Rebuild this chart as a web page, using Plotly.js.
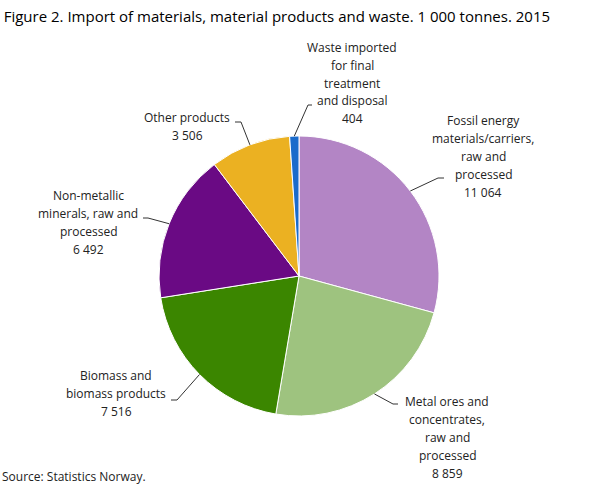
<!DOCTYPE html>
<html>
<head>
<meta charset="utf-8">
<script src="https://cdn.plot.ly/plotly-3.0.1.min.js"></script>
<style>
  html, body { margin: 0; padding: 0; background: #fff; }
  #chart { width: 609px; height: 488px; }
</style>
</head>
<body>
<div id="chart"></div>
<script>
'use strict';

/* ============================================================
   DATA – 1 000 tonnes, 2015
   ============================================================ */
var categories = [
  'Fossil energy materials/carriers, raw and processed',
  'Metal ores and concentrates, raw and processed',
  'Biomass and biomass products',
  'Non-metallic minerals, raw and processed',
  'Other products',
  'Waste imported for final treatment and disposal'
];
var labelLines = [
  ['Fossil energy', 'materials/carriers,', 'raw and', 'processed'],
  ['Metal ores and', 'concentrates,', 'raw and', 'processed'],
  ['Biomass and', 'biomass products'],
  ['Non-metallic', 'minerals, raw and', 'processed'],
  ['Other products'],
  ['Waste imported', 'for final', 'treatment', 'and disposal']
];
var values = [11064, 8859, 7516, 6492, 3506, 404];

/* ============================================================
   STYLE / PLACEMENT (pixels in the 609x488 frame)
   ============================================================ */
var W = 609, H = 488;
var colors = ['#b385c5', '#9ec37f', '#3b8600', '#6a0a84', '#ebb122', '#1b6bcb'];
var PIE = { cx: 299, cy: 276, r: 140 };
var LINE_H = 18;
// text centre (tx, ty), leader elbow (ex, ey), tick end (hx)
var labelPlace = [
  { tx: 483, ty: 156, ex: 438, ey: 178, hx: 444 },
  { tx: 447, ty: 437, ex: 393, ey: 404, hx: 398 },
  { tx: 116, ty: 393, ex: 177, ey: 400, hx: 171 },
  { tx: 88,  ty: 222, ex: 148, ey: 218, hx: 143 },
  { tx: 187, ty: 126, ex: 241, ey: 122, hx: 235 },
  { tx: 352, ty: 83,  ex: 308, ey: 105, hx: 312 }
];

function fmt(v) {
  return String(v).replace(/\B(?=(\d{3})+(?!\d))/g, ' ');
}
function px(x) { return x / W; }
function py(y) { return 1 - y / H; }

/* ============================================================
   LABELS + LEADER LINES
   ============================================================ */
var total = values.reduce(function (a, b) { return a + b; }, 0);
var annotations = [];
var shapes = [];
var cum = 0;

values.forEach(function (v, i) {
  var mid = (cum + v / 2) / total;
  cum += v;
  var t = mid * 2 * Math.PI;
  var ax = PIE.cx + PIE.r * Math.sin(t);
  var ay = PIE.cy - PIE.r * Math.cos(t);
  var p = labelPlace[i];

  var lines = labelLines[i].concat([fmt(v)]);
  lines.forEach(function (ln, k) {
    annotations.push({
      xref: 'paper', yref: 'paper',
      x: px(p.tx), y: py(p.ty + (k - (lines.length - 1) / 2) * LINE_H),
      xanchor: 'center', yanchor: 'middle',
      text: ln, showarrow: false,
      font: { family: 'Open Sans, sans-serif', size: 12, color: '#222' }
    });
  });

  shapes.push({
    type: 'path', xref: 'paper', yref: 'paper',
    path: 'M' + px(ax) + ',' + py(ay) + ' L' + px(p.ex) + ',' + py(p.ey) +
          ' L' + px(p.hx) + ',' + py(p.ey),
    line: { color: '#333', width: 1 }
  });
});

annotations.push({
  xref: 'paper', yref: 'paper', x: px(0), y: py(476),
  xanchor: 'left', yanchor: 'middle', showarrow: false,
  text: 'Source: Statistics Norway.',
  font: { family: 'Open Sans, sans-serif', size: 12, color: '#222' }
});

/* ============================================================
   PIE
   ============================================================ */
Plotly.newPlot('chart', [{
  type: 'pie',
  labels: categories,
  values: values,
  sort: false,
  direction: 'clockwise',
  rotation: 0,
  textinfo: 'none',
  hoverinfo: 'label+value',
  marker: { colors: colors, line: { color: '#fff', width: 1 } },
  domain: {
    x: [px(PIE.cx - PIE.r), px(PIE.cx + PIE.r)],
    y: [py(PIE.cy + PIE.r), py(PIE.cy - PIE.r)]
  }
}], {
  width: W, height: H,
  margin: { l: 0, r: 0, t: 0, b: 0 },
  paper_bgcolor: '#fff',
  showlegend: false,
  title: {
    text: 'Figure 2. Import of materials, material products and waste. 1 000 tonnes. 2015',
    x: 0.006, xanchor: 'left', y: py(17), yanchor: 'middle',
    font: { family: 'Open Sans, sans-serif', size: 15, color: '#000' }
  },
  annotations: annotations,
  shapes: shapes
}, { displayModeBar: false, staticPlot: true });
</script>
</body>
</html>
